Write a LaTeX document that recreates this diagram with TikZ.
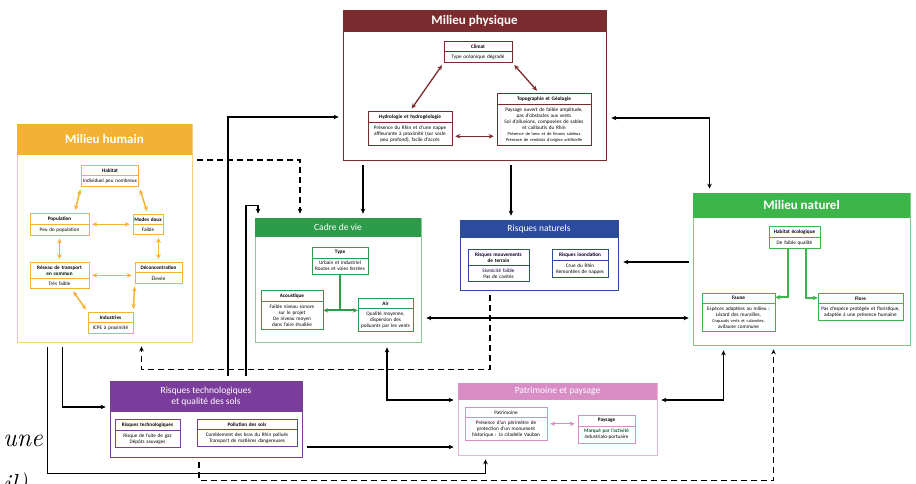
\documentclass[tikz,border=0pt]{standalone}
\usepackage{fontspec}
\setsansfont{Carlito}
\usetikzlibrary{shapes.multipart,arrows.meta}

\definecolor{physred}{HTML}{7A2B2E}
\definecolor{humorange}{HTML}{F4B234}
\definecolor{humframe}{HTML}{F7CE7C}
\definecolor{cadregreen}{HTML}{2E9B4A}
\definecolor{cadreframe}{HTML}{8CCB98}
\definecolor{natblue}{HTML}{2D4B9C}
\definecolor{natgreen}{HTML}{3DB54A}
\definecolor{natframe}{HTML}{7CC984}
\definecolor{techpurple}{HTML}{7A3D9B}
\definecolor{patpink}{HTML}{D88DC5}
\definecolor{patframe}{HTML}{E6B3D9}

\tikzset{
  frame/.style={draw=#1, line width=0.7pt, fill=white, inner sep=0pt},
  sub/.style={rectangle split, rectangle split parts=2, draw=#1, fill=white,
    line width=0.5pt, inner xsep=1.2pt, inner ysep=3pt, align=center, anchor=north,
    font=\sffamily\fontsize{5.2}{6}\selectfont},
  bigtitle/.style={text=white, font=\sffamily\bfseries\fontsize{13}{15}\selectfont},
  title/.style={text=white, align=center, font=\sffamily\fontsize{9.5}{11}\selectfont},
  conn/.style={line width=1.4pt, shorten <=5pt, shorten >=4pt},
  inner/.style={line width=#1, <->, shorten <=3pt, shorten >=3pt}
}

\begin{document}
\begin{tikzpicture}[x=1pt, y=-1pt, >={Stealth[length=5pt,width=4.5pt]}]
\fill[white] (0,0) rectangle (916,483);
\useasboundingbox (0,0) rectangle (916,483);

% big boxes
\node[frame=physred, minimum width=263pt, minimum height=150pt] (phys) at (474.5,85) {};
\fill[physred] (phys.north west) rectangle ([yshift=-22pt]phys.north east) node[pos=.5, bigtitle] {Milieu physique};

\node[frame=humframe, minimum width=175pt, minimum height=218pt] (hum) at (104.5,233) {};
\fill[humorange] (hum.north west) rectangle ([yshift=-31pt]hum.north east) node[pos=.5, bigtitle] {Milieu humain};

\node[frame=cadreframe, minimum width=166pt, minimum height=124pt] (cadre) at (338,280) {};
\fill[cadregreen] (cadre.north west) rectangle ([yshift=-19pt]cadre.north east) node[pos=.5, title] {Cadre de vie};

\node[frame=natblue, minimum width=158pt, minimum height=70pt] (rnat) at (539,255) {};
\fill[natblue] (rnat.north west) rectangle ([yshift=-18pt]rnat.north east) node[pos=.5, title] {Risques naturels};

\node[frame=natframe, minimum width=217pt, minimum height=152pt] (nat) at (801.5,269) {};
\fill[natgreen] (nat.north west) rectangle ([yshift=-25pt]nat.north east) node[pos=.5, bigtitle] {Milieu naturel};

\node[frame=techpurple, minimum width=192pt, minimum height=76pt] (tech) at (206,419) {};
\fill[techpurple] (tech.north west) rectangle ([yshift=-31pt]tech.north east) node[pos=.5, title] {Risques technologiques\\et qualité des sols};

\node[frame=patframe, minimum width=199pt, minimum height=72pt] (patr) at (557.5,419) {};
\fill[patpink] (patr.north west) rectangle ([yshift=-17pt]patr.north east) node[pos=.5, title] {Patrimoine et paysage};

% milieu physique
\node[sub=physred, text width=65.6pt] (clim) at (478,41) {\textbf{Climat}\nodepart{two}Type océanique dégradé};
\node[sub=physred, text width=81.6pt] (hydro) at (410,111) {\textbf{Hydrologie et hydrogéologie}\nodepart{two}Présence du Rhin et d'une nappe\\affleurante à proximité (sur socle\\peu profond), facile d'accès};
\node[sub=physred, text width=91.6pt] (topo) at (544,93) {\textbf{Topographie et Géologie}\nodepart{two}Paysage ouvert de faible amplitude,\\pas d'obstacles aux vents\\Sol d'alluvions, composées de sables\\et cailloutis du Rhin\\{\fontsize{4.4}{5}\selectfont Présence de lœss et de limons sableux}\\{\fontsize{4.4}{5}\selectfont Présence de remblais d'origine artificielle}};
\draw[physred, inner=1.3pt] (hydro.north) -- (clim.south west);
\draw[physred, inner=1.3pt] (clim.south east) -- ([xshift=-5pt]topo.north);
\draw[physred, inner=1.3pt] ([yshift=-8pt]hydro.east) -- ([yshift=-8pt]hydro.east -| topo.west);

% milieu humain
\node[sub=humorange, text width=55pt] (habitat) at (110,165) {\textbf{Habitat}\nodepart{two}Individuel peu nombreux};
\node[sub=humorange, text width=56.6pt] (popu) at (59.5,213) {\textbf{Population}\nodepart{two}Peu de population};
\node[sub=humorange, text width=27.6pt] (modes) at (148,214) {\textbf{Modes doux}\nodepart{two}Faible};
\node[sub=humorange, text width=56.6pt] (reseau) at (59.5,262) {\textbf{Réseau de transport\\en commun}\nodepart{two}Très faible};
\node[sub=humorange, text width=44.6pt] (decon) at (158.5,262) {\textbf{Déconcentration}\nodepart{two}Élevée};
\node[sub=humorange, text width=42.6pt] (indus) at (110.5,312) {\textbf{Industries}\nodepart{two}ICPE à proximité};
\draw[humorange, inner=1.5pt] (habitat.south west) -- ([xshift=15pt]popu.north);
\draw[humorange, inner=1.5pt] (habitat.south east) -- (modes.north);
\draw[humorange, inner=0.8pt] (popu.east) -- (popu.east -| modes.west);
\draw[humorange, inner=1.5pt] (popu.south) -- (reseau.north);
\draw[humorange, inner=1.5pt] (decon.north) -- (decon.north |- modes.south);
\draw[humorange, inner=1.5pt] (reseau.east) -- (reseau.east -| decon.west);
\draw[humorange, inner=1.5pt] ([xshift=12pt]reseau.south) -- (indus.north west);
\draw[humorange, inner=1.5pt] (decon.south west) -- (indus.north east);

% cadre de vie
\node[sub=cadregreen, text width=53.6pt] (type) at (340,247) {\textbf{Type}\nodepart{two}Urbain et industriel\\Routes et voies ferrées};
\node[sub=cadregreen, text width=59.6pt] (acou) at (292,290) {\textbf{Acoustique}\nodepart{two}Faible niveau sonore\\sur le projet\\De niveau moyen\\dans l'aire étudiée};
\node[sub=cadregreen, text width=52.6pt] (air) at (385.5,298) {\textbf{Air}\nodepart{two}Qualité moyenne,\\dispersion des\\polluants par les vents};
\draw[cadregreen, line width=1.8pt] (type.south) -- ([yshift=-36pt]type.south) coordinate (tj);
\draw[cadregreen, line width=1.8pt, <->] (acou.east |- tj) -- (air.west |- tj);

% risques naturels
\node[sub=natblue, text width=58.6pt] (mvt) at (498.5,249) {\textbf{Risques mouvements\\de terrain}\nodepart{two}Sismicité faible\\Pas de cavités};
\node[sub=natblue, text width=53.6pt] (inond) at (580,249) {\textbf{Risques inondation}\nodepart{two}Crue du Rhin\\Remontées de nappes};

% milieu naturel
\node[sub=natgreen, text width=48.6pt] (habeco) at (794.5,226) {\textbf{Habitat écologique}\nodepart{two}De faible qualité};
\node[sub=natgreen, text width=70.6pt] (faune) at (738.5,293) {\textbf{Faune}\nodepart{two}Espèces adaptées au milieu :\\Lézard des murailles,\\{\fontsize{4.4}{5}\selectfont Crapauds verts et calamites,}\\avifaune commune};
\node[sub=natgreen, text width=82.6pt] (flore) at (860.5,293) {\textbf{Flore}\nodepart{two}Pas d'espèce protégée et floristique,\\adaptée à une présence humaine};
\draw[natgreen, line width=2pt, ->] ([xshift=-7pt]habeco.south) |- ([yshift=15pt]faune.east);
\draw[natgreen, line width=2pt, ->] ([xshift=11pt]habeco.south) |- ([yshift=9pt]flore.west);

% risques technologiques
\node[sub=techpurple, text width=62.6pt] (rtech) at (147.5,419) {\textbf{Risques technologiques}\nodepart{two}Risque de fuite de gaz\\Dépôts sauvages};
\node[sub=techpurple, text width=97.6pt] (pollu) at (247,419) {\textbf{Pollution des sols}\nodepart{two}Comblement des bras du Rhin pollués\\Transport de matières dangereuses};

% patrimoine et paysage
\node[sub=patpink, text width=79.6pt] (patri) at (506,407) {Patrimoine\nodepart{two}Présence d'un périmètre de\\protection d'un monument\\historique : la citadelle Vauban};
\node[sub=patpink, text width=54.6pt] (paysage) at (606.5,415) {\textbf{Paysage}\nodepart{two}Marqué par l'activité\\industrialo-portuaire};
\draw[patpink, inner=0.8pt] (patri.east) -- (patri.east -| paysage.west);

% liens entre milieux
\draw[conn, ->] ([xshift=22pt]tech.north) |- ([yshift=-32pt]phys.west);
\draw[conn, ->] ([xshift=40pt]tech.north) -- ++(0,-175) -| ([xshift=-80pt]cadre.north);
\draw[conn, dashed, dash pattern=on 6pt off 4pt, ->] ([yshift=73pt]hum.east) -| ([xshift=-38pt]cadre.north);
\draw[conn, ->] ([xshift=25pt]cadre.north |- phys.south) -- ([xshift=25pt]cadre.north);
\draw[conn, ->] ([xshift=-28pt]rnat.north |- phys.south) -- ([xshift=-28pt]rnat.north);
\draw[conn, <->] ([yshift=-33pt]phys.east) -| ([xshift=-92pt]nat.north);
\draw[conn, <-] ([yshift=-7pt]rnat.east) -- ([yshift=-7pt]rnat.east -| nat.west);
\draw[conn, <->] ([yshift=-38pt]cadre.east) -- ([yshift=-38pt]cadre.east -| nat.west);
\draw[conn, <->] ([xshift=49pt]cadre.south) |- ([yshift=19pt]patr.west);
\draw[conn, ->] ([yshift=-28pt]tech.east) -- ([yshift=-28pt]tech.east -| patr.west);
\draw[conn, ->] ([xshift=-57pt]hum.south) -- ++(0,131) -| ([xshift=-72pt]patr.south);
\draw[conn, ->] ([xshift=-42pt]hum.south) |- ([yshift=12pt]tech.west);
\draw[conn, dashed, dash pattern=on 6pt off 4pt, ->] ([xshift=-49pt]rnat.south) -- ++(0,79) -| ([xshift=37pt]hum.south);
\draw[conn, <->] ([xshift=-78pt]nat.south) |- ([yshift=19pt]patr.east);
\draw[conn, dashed, dash pattern=on 6pt off 4pt, ->] ([xshift=-7pt]tech.south) -- ++(0,23) -| ([xshift=-28pt]nat.south);

% texte coupe en bas a gauche
\node[anchor=base west, inner sep=0pt, font=\fontsize{26}{30}\selectfont\itshape] (une) at (3,446) {une};
\node[anchor=base west, inner sep=0pt, font=\fontsize{26}{30}\selectfont\itshape] (detail) at (3,492) {il)};
\end{tikzpicture}
\end{document}
